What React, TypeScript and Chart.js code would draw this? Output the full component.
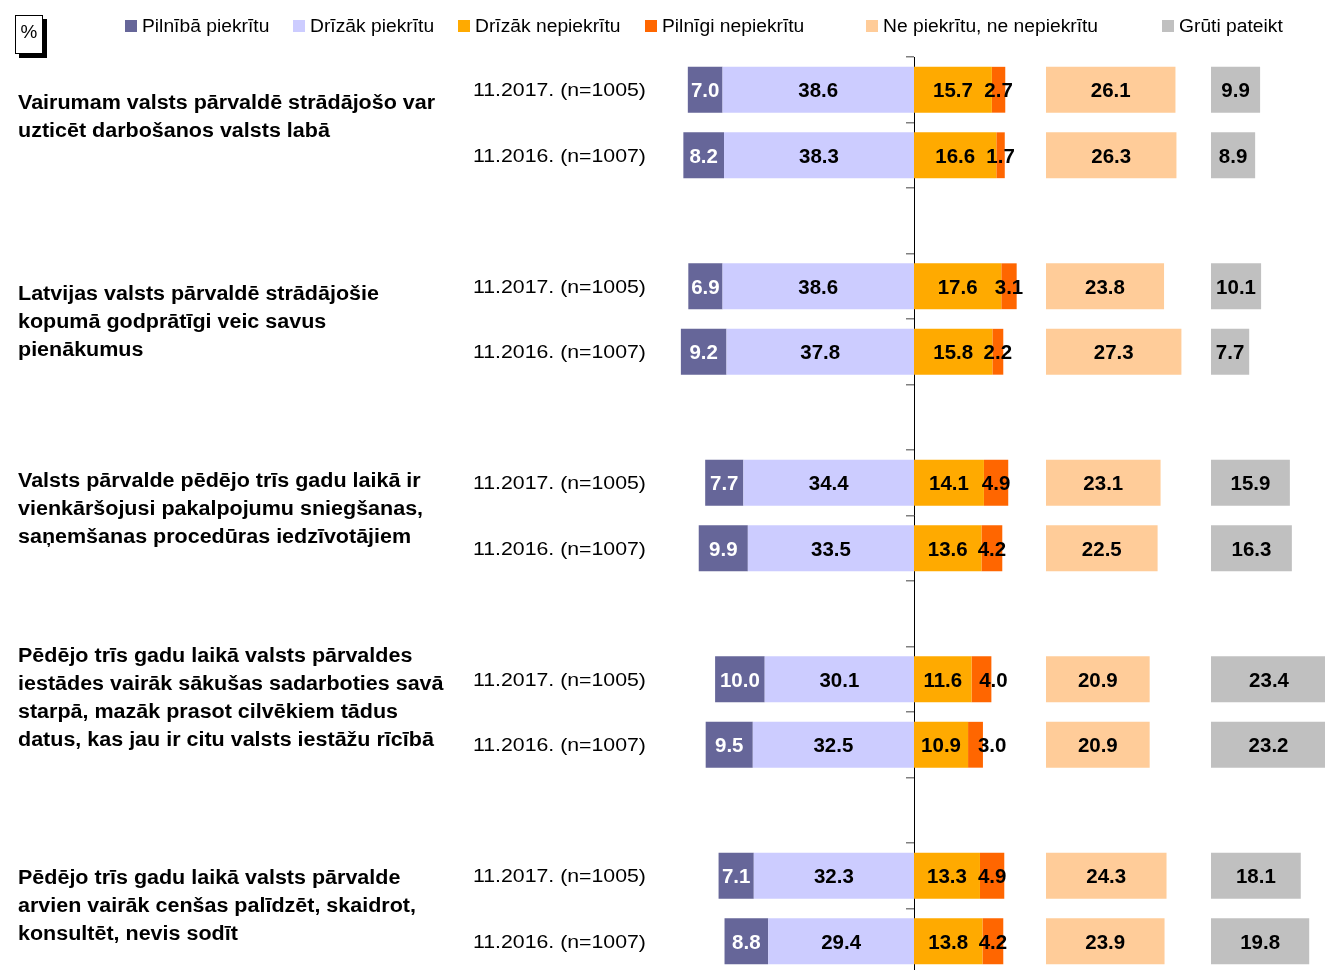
import React, { useEffect, useRef } from 'react';
import { Chart, registerables } from 'chart.js';

Chart.register(...registerables);

// ---------- data ----------
const QUESTIONS: string[][] = [
  ['Vairumam valsts pārvaldē strādājošo var', 'uzticēt darbošanos valsts labā'],
  ['Latvijas valsts pārvaldē strādājošie', 'kopumā godprātīgi veic savus', 'pienākumus'],
  ['Valsts pārvalde pēdējo trīs gadu laikā ir', 'vienkāršojusi pakalpojumu sniegšanas,', 'saņemšanas procedūras iedzīvotājiem'],
  ['Pēdējo trīs gadu laikā valsts pārvaldes', 'iestādes vairāk sākušas sadarboties savā', 'starpā, mazāk prasot cilvēkiem tādus', 'datus, kas jau ir citu valsts iestāžu rīcībā'],
  ['Pēdējo trīs gadu laikā valsts pārvalde', 'arvien vairāk cenšas palīdzēt, skaidrot,', 'konsultēt, nevis sodīt'],
];
const WAVES = ['11.2017. (n=1005)', '11.2016. (n=1007)'];

// values per row: Q1-2017, Q1-2016, Q2-2017, Q2-2016, ...
const FULLY_AGREE = [7.0, 8.2, 6.9, 9.2, 7.7, 9.9, 10.0, 9.5, 7.1, 8.8];
const RATHER_AGREE = [38.6, 38.3, 38.6, 37.8, 34.4, 33.5, 30.1, 32.5, 32.3, 29.4];
const RATHER_DISAGREE = [15.7, 16.6, 17.6, 15.8, 14.1, 13.6, 11.6, 10.9, 13.3, 13.8];
const FULLY_DISAGREE = [2.7, 1.7, 3.1, 2.2, 4.9, 4.2, 4.0, 3.0, 4.9, 4.2];
const NEUTRAL = [26.1, 26.3, 23.8, 27.3, 23.1, 22.5, 20.9, 20.9, 24.3, 23.9];
const DONT_KNOW = [9.9, 8.9, 10.1, 7.7, 15.9, 16.3, 23.4, 23.2, 18.1, 19.8];

const LEGEND_LABELS = ['Pilnībā piekrītu', 'Drīzāk piekrītu', 'Drīzāk nepiekrītu', 'Pilnīgi nepiekrītu', 'Ne piekrītu, ne nepiekrītu', 'Grūti pateikt'];
const COLORS = ['#666699', '#CCCCFF', '#FFAA00', '#FF6600', '#FFCC99', '#C0C0C0'];

// ---------- layout ----------
const CANVAS_W = 1325;
const CANVAS_H = 975;
const PX_PER_UNIT = 4.96;
const AXIS_X = 914;
const NEUTRAL_X = 1046;
const DK_X = 1211;
const LEGEND_X = [125, 293, 458, 645, 866, 1162];
const QUESTION_NUDGE = [-5, 3, -6, -14, -2];
const FONT = '"Liberation Sans", Arial, Helvetica, sans-serif';

function rangeFor(originX: number) {
  return { min: -originX / PX_PER_UNIT, max: (CANVAS_W - originX) / PX_PER_UNIT };
}

// rows are grouped in pairs with an empty slot between question groups
function slotted(values: (number | null)[], sign = 1): (number | null)[] {
  const out: (number | null)[] = [];
  for (let q = 0; q < QUESTIONS.length; q++) {
    out.push(values[q * 2] == null ? null : sign * (values[q * 2] as number));
    out.push(values[q * 2 + 1] == null ? null : sign * (values[q * 2 + 1] as number));
    if (q < QUESTIONS.length - 1) out.push(null);
  }
  return out;
}
const SLOT_LABELS = slotted(FULLY_AGREE).map((_, i) => 's' + i);

function stretchText(ctx: CanvasRenderingContext2D, text: string, x: number, y: number, font: string, color: string, align: CanvasTextAlign, sx: number) {
  ctx.save();
  ctx.font = font;
  ctx.fillStyle = color;
  ctx.textAlign = align;
  ctx.textBaseline = 'middle';
  ctx.translate(x, y);
  ctx.scale(sx, 1);
  ctx.fillText(text, 0, 0);
  ctx.restore();
}

const VALUE_FONT = 'bold 19.5px ' + FONT;
const VALUE_SX = 1.05;

const decorPlugin = {
  id: 'decor',
  afterDatasetsDraw(chart: any) {
    const ctx: CanvasRenderingContext2D = chart.ctx;
    const lastEnd: Record<string, number> = {};
    chart.data.datasets.forEach((ds: any, di: number) => {
      const meta = chart.getDatasetMeta(di);
      meta.data.forEach((el: any, i: number) => {
        const v = ds.data[i];
        if (v == null) return;
        const p = el.getProps(['x', 'base', 'y'], true);
        const txt = Math.abs(v).toFixed(1);
        ctx.save();
        ctx.font = VALUE_FONT;
        const w = ctx.measureText(txt).width * VALUE_SX;
        ctx.restore();
        let cx = (p.x + p.base) / 2;
        const key = ds.stack + ':' + (v < 0 ? 'n' : 'p') + ':' + i;
        if (v > 0 && lastEnd[key] != null && cx - w / 2 - lastEnd[key] < 8) {
          cx = lastEnd[key] + 17 + w / 2;
        }
        lastEnd[key] = cx + w / 2;
        stretchText(ctx, txt, cx, p.y + 2, VALUE_FONT, ds.valueColor, 'center', VALUE_SX);
      });
    });
  },
  afterDraw(chart: any) {
    const ctx: CanvasRenderingContext2D = chart.ctx;
    const yScale = chart.scales.y;
    // % box
    ctx.save();
    ctx.fillStyle = '#000';
    ctx.fillRect(19, 19, 28, 39);
    ctx.fillStyle = '#fff';
    ctx.fillRect(15, 15, 28, 39);
    ctx.strokeStyle = '#000';
    ctx.lineWidth = 1;
    ctx.strokeRect(15.5, 15.5, 27, 38);
    ctx.restore();
    stretchText(ctx, '%', 29, 33, '18px ' + FONT, '#000', 'center', 1.05);

    // legend
    LEGEND_LABELS.forEach((lbl, i) => {
      ctx.fillStyle = COLORS[i];
      ctx.fillRect(LEGEND_X[i], 20, 12, 12);
      stretchText(ctx, lbl, LEGEND_X[i] + 17, 27, '17.5px ' + FONT, '#000', 'left', 1.1);
    });

    // question and wave labels
    QUESTIONS.forEach((lines, q) => {
      const y0 = yScale.getPixelForValue(q * 3);
      const y1 = yScale.getPixelForValue(q * 3 + 1);
      stretchText(ctx, WAVES[0], 473, y0 + 1.5, '19px ' + FONT, '#000', 'left', 1.12);
      stretchText(ctx, WAVES[1], 473, y1 + 1.5, '19px ' + FONT, '#000', 'left', 1.12);
      const lh = 28;
      const center = (y0 + y1) / 2 + QUESTION_NUDGE[q];
      const top = center - ((lines.length - 1) * lh) / 2;
      lines.forEach((ln, k) => {
        stretchText(ctx, ln, 18, top + k * lh, 'bold 20px ' + FONT, '#000', 'left', 1.075);
      });
    });
  },
};

export default function App() {
  const ref = useRef<HTMLCanvasElement | null>(null);

  useEffect(() => {
    if (!ref.current) return;
    const common = { grouped: false, categoryPercentage: 1, barPercentage: 0.7, borderWidth: 0 };
    const chart = new Chart(ref.current, {
      type: 'bar',
      data: {
        labels: SLOT_LABELS,
        datasets: [
          { ...common, label: LEGEND_LABELS[1], data: slotted(RATHER_AGREE, -1), backgroundColor: COLORS[1], xAxisID: 'x', stack: 'main', valueColor: '#000' } as any,
          { ...common, label: LEGEND_LABELS[0], data: slotted(FULLY_AGREE, -1), backgroundColor: COLORS[0], xAxisID: 'x', stack: 'main', valueColor: '#fff' } as any,
          { ...common, label: LEGEND_LABELS[2], data: slotted(RATHER_DISAGREE), backgroundColor: COLORS[2], xAxisID: 'x', stack: 'main', valueColor: '#000' } as any,
          { ...common, label: LEGEND_LABELS[3], data: slotted(FULLY_DISAGREE), backgroundColor: COLORS[3], xAxisID: 'x', stack: 'main', valueColor: '#000' } as any,
          { ...common, label: LEGEND_LABELS[4], data: slotted(NEUTRAL), backgroundColor: COLORS[4], xAxisID: 'xN', stack: 'neutral', valueColor: '#000' } as any,
          { ...common, label: LEGEND_LABELS[5], data: slotted(DONT_KNOW), backgroundColor: COLORS[5], xAxisID: 'xG', stack: 'dk', valueColor: '#000' } as any,
        ],
      },
      options: {
        indexAxis: 'y',
        responsive: false,
        animation: false,
        layout: { padding: { top: 57, bottom: 1, left: 0, right: 0 } },
        plugins: { legend: { display: false }, tooltip: { enabled: false } },
        scales: {
          x: { type: 'linear', display: false, stacked: true, ...rangeFor(AXIS_X) },
          xN: { type: 'linear', axis: 'x', position: 'bottom', display: false, ...rangeFor(NEUTRAL_X) },
          xG: { type: 'linear', axis: 'x', position: 'bottom', display: false, ...rangeFor(DK_X) },
          y: {
            type: 'category',
            offset: true,
            position: { x: 0 } as any,
            ticks: { display: false },
            grid: { drawOnChartArea: false, drawTicks: true, tickLength: 8, color: '#808080', lineWidth: 1.5, offset: true },
            border: { display: true, color: '#000', width: 1 },
          },
        },
      } as any,
      plugins: [decorPlugin],
    });
    return () => chart.destroy();
  }, []);

  return (
    <div style={{ position: 'fixed', left: 0, top: 0, width: CANVAS_W, height: 970, overflow: 'hidden', background: '#fff' }}>
      <canvas ref={ref} width={CANVAS_W} height={CANVAS_H} style={{ display: 'block' }} />
    </div>
  );
}
